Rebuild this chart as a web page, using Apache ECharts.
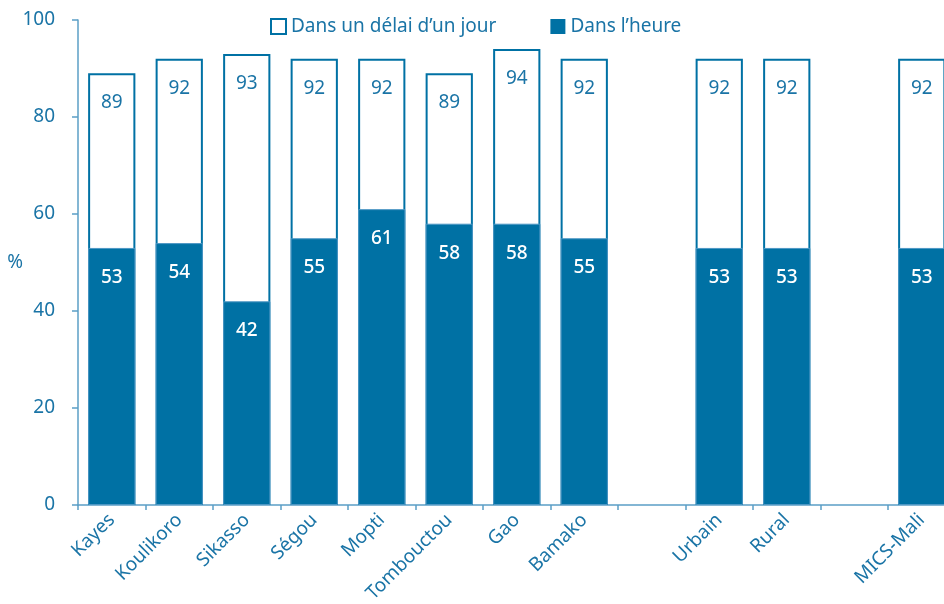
<!DOCTYPE html>
<html>
<head>
<meta charset="utf-8">
<style>
  html, body { margin: 0; padding: 0; background: #fff; }
  #chart { width: 944px; height: 604px; }
</style>
<script src="https://cdn.jsdelivr.net/npm/echarts@6/dist/echarts.min.js"></script>
</head>
<body>
<div id="chart"></div>
<script>
// Categories (empty strings are spacer slots between groups)
const categories = ['Kayes', 'Koulikoro', 'Sikasso', 'Ségou', 'Mopti', 'Tombouctou', 'Gao', 'Bamako', '', 'Urbain', 'Rural', '', 'MICS-Mali'];
// Share (%) within one day and within the hour
const withinDay  = [89, 92, 93, 92, 92, 89, 94, 92, '-', 92, 92, '-', 92];
const withinHour = [53, 54, 42, 55, 61, 58, 58, 55, '-', 53, 53, '-', 53];
const yTicks = [0, 20, 40, 60, 80, 100];

const BLUE = '#0071a4';
const BLUE_EDGE = '#4d97c4';
const TEXT = '#1a74a6';
const AXIS = '#5b9fc6';
const FONT = '"Noto Sans", sans-serif';
const FS = 19;

const chart = echarts.init(document.getElementById('chart'));
chart.setOption({
  animation: false,
  textStyle: { fontFamily: FONT },
  legend: {
    top: 12,
    left: 265,
    itemWidth: 15,
    itemHeight: 15,
    itemGap: 54,
    textStyle: { color: TEXT, fontSize: FS, fontFamily: FONT },
    data: [
      { name: 'Dans un délai d’un jour', icon: 'rect', itemStyle: { color: '#fff', borderColor: BLUE, borderWidth: 2 } },
      { name: 'Dans l’heure', icon: 'rect', itemStyle: { color: BLUE, borderColor: BLUE, borderWidth: 0 } }
    ]
  },
  // the plot runs past the right edge of the canvas, so the last bar is clipped
  grid: { left: 78, top: 20, bottom: 99, width: 877.5, containLabel: false, outerBoundsMode: 'none' },
  xAxis: {
    type: 'category',
    data: categories,
    axisLine: { lineStyle: { color: AXIS, width: 1.5 } },
    axisTick: { show: true, interval: 0, length: 5, lineStyle: { color: AXIS, width: 1.5 } },
    axisLabel: { interval: 0, rotate: 45, color: TEXT, fontSize: FS, fontFamily: FONT, margin: 12 }
  },
  yAxis: {
    type: 'value',
    min: yTicks[0],
    max: yTicks[yTicks.length - 1],
    interval: yTicks[1] - yTicks[0],
    name: '%',
    nameLocation: 'middle',
    nameRotate: 0,
    nameGap: 55,
    nameMoveOverlap: false,
    nameTextStyle: { color: TEXT, fontSize: FS, fontFamily: FONT, padding: [6, 0, 0, 0] },
    axisLine: { show: true, lineStyle: { color: AXIS, width: 1.5 } },
    axisTick: { show: true, length: 6, lineStyle: { color: AXIS, width: 1.5 } },
    splitLine: { show: false },
    axisLabel: { color: TEXT, fontSize: FS, fontFamily: FONT, margin: 23 }
  },
  series: [
    {
      name: 'Dans un délai d’un jour',
      type: 'bar',
      data: withinDay,
      barWidth: '70%',
      barGap: '-100%',
      itemStyle: { color: '#fff', borderColor: BLUE, borderWidth: 2 },
      label: {
        show: true, position: 'insideTop', distance: 20,
        color: TEXT, fontSize: FS, fontFamily: FONT
      }
    },
    {
      name: 'Dans l’heure',
      type: 'bar',
      data: withinHour,
      barWidth: '70%',
      itemStyle: { color: BLUE, borderColor: BLUE_EDGE, borderWidth: 1 },
      label: {
        show: true, position: 'insideTop', distance: 20,
        color: '#fff', fontSize: FS, fontWeight: 500, fontFamily: FONT
      }
    }
  ]
});
</script>
</body>
</html>
